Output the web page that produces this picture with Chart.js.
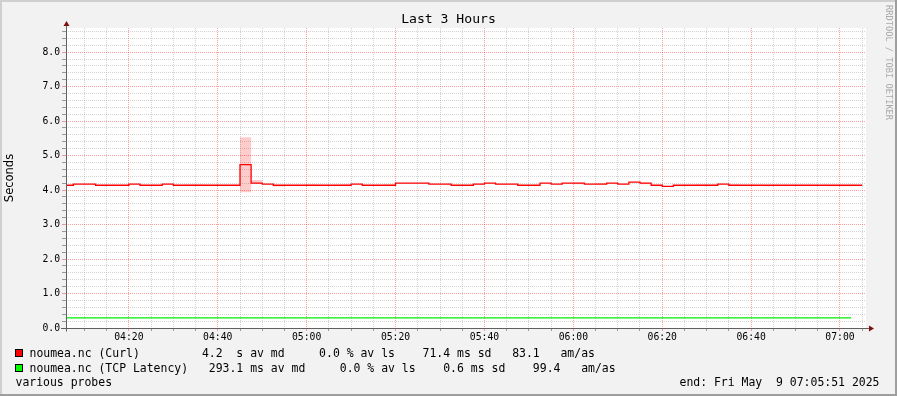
<!DOCTYPE html>
<html>
<head>
<meta charset="utf-8">
<script src="https://cdn.jsdelivr.net/npm/chart.js@4.4.1/dist/chart.umd.min.js"></script>
<style>
  html, body { margin: 0; padding: 0; background: #f2f2f2; }
  #wrap { position: relative; width: 897px; height: 396px; overflow: hidden; }
  #wrap canvas { position: absolute; left: 0; top: 0; }
  .txt { position: absolute; font-family: "DejaVu Sans Mono", monospace; color: #000; white-space: pre; }
  .leg { font-size: 11.46px; line-height: 14px; }
  .box { position: absolute; width: 6px; height: 6px; border: 1px solid #000; }
</style>
</head>
<body>
<div id="wrap">
  <canvas id="chart" width="897" height="396"></canvas>
  <div class="txt" style="left:0;width:897px;top:11px;text-align:center;font-size:13.1px;line-height:16px;">Last 3 Hours</div>
  <div class="txt" style="left:884px;top:5px;font-size:8.7px;line-height:10px;writing-mode:vertical-rl;color:#aaa;">RRDTOOL / TOBI OETIKER</div>
  <span class="box" style="left:15px;top:349px;background:#ff0000;"></span>
  <span class="box" style="left:15px;top:364px;background:#00ff00;"></span>
  <div class="txt leg" id="row1" style="left:29.5px;top:346.3px;"></div>
  <div class="txt leg" id="row2" style="left:29.5px;top:361.3px;"></div>
  <div class="txt leg" style="left:15.5px;top:374.7px;">various probes</div>
  <div class="txt leg" style="left:679.5px;top:374.7px;">end: Fri May  9 07:05:51 2025</div>
</div>
<script>
// time axis in minutes since midnight, 3 hours ending 07:05:51
const viewStart = 245.85;
const viewEnd = 425.85;
const firstStep = 245;   // 04:05, rrd step 2.5 min
const stepLen = 2.5;
const gridMinutes = 5;

const timeLabels = ["04:20", "04:40", "05:00", "05:20", "05:40", "06:00", "06:20", "06:40", "07:00"];
const labelMinutes = [260, 280, 300, 320, 340, 360, 380, 400, 420];

// noumea.nc (Curl) median, seconds, one value per 2.5 min step
const curlMedian = [
  4.14, 4.17, 4.17, 4.14, 4.14, 4.14, 4.17, 4.14, 4.14, 4.17,
  4.14, 4.14, 4.14, 4.14, 4.14, 4.14, 4.74, 4.20, 4.17, 4.14,
  4.14, 4.14, 4.14, 4.14, 4.14, 4.14, 4.17, 4.14, 4.14, 4.14,
  4.20, 4.20, 4.20, 4.17, 4.17, 4.14, 4.14, 4.17, 4.20, 4.17,
  4.17, 4.14, 4.14, 4.20, 4.17, 4.20, 4.20, 4.17, 4.17, 4.20,
  4.17, 4.23, 4.20, 4.14, 4.11, 4.14, 4.14, 4.14, 4.14, 4.17,
  4.14, 4.14, 4.14, 4.14, 4.14, 4.14, 4.14, 4.14, 4.14, 4.14,
  4.14, 4.14
];
// smoke (spread of the pings) low / high
const curlSmokeLo = [
  4.14, 4.17, 4.17, 4.14, 4.14, 4.14, 4.17, 4.14, 4.14, 4.17,
  4.14, 4.13, 4.14, 4.14, 4.14, 4.14, 3.94, 4.19, 4.17, 4.10,
  4.14, 4.14, 4.14, 4.14, 4.14, 4.14, 4.17, 4.14, 4.14, 4.14,
  4.20, 4.20, 4.20, 4.17, 4.17, 4.14, 4.14, 4.17, 4.20, 4.15,
  4.17, 4.14, 4.14, 4.20, 4.17, 4.20, 4.17, 4.17, 4.17, 4.20,
  4.17, 4.23, 4.17, 4.14, 4.11, 4.14, 4.14, 4.14, 4.14, 4.17,
  4.14, 4.14, 4.14, 4.11, 4.14, 4.14, 4.14, 4.14, 4.14, 4.11,
  4.11, 4.14
];
const curlSmokeHi = [
  4.14, 4.17, 4.17, 4.14, 4.14, 4.14, 4.17, 4.14, 4.14, 4.17,
  4.14, 4.16, 4.16, 4.14, 4.14, 4.14, 5.53, 4.29, 4.17, 4.14,
  4.14, 4.14, 4.16, 4.14, 4.14, 4.16, 4.17, 4.14, 4.14, 4.16,
  4.20, 4.20, 4.20, 4.17, 4.17, 4.14, 4.14, 4.17, 4.20, 4.17,
  4.17, 4.14, 4.14, 4.20, 4.17, 4.20, 4.21, 4.17, 4.20, 4.20,
  4.17, 4.23, 4.21, 4.14, 4.11, 4.14, 4.14, 4.16, 4.16, 4.17,
  4.16, 4.14, 4.14, 4.14, 4.14, 4.14, 4.14, 4.14, 4.14, 4.15,
  4.15, 4.14
];
// noumea.nc (TCP Latency), seconds
const tcpLatency = [
  0.293, 0.293, 0.293, 0.293, 0.293, 0.293, 0.293, 0.293, 0.293, 0.293,
  0.293, 0.293, 0.293, 0.293, 0.293, 0.293, 0.293, 0.293, 0.293, 0.293,
  0.293, 0.293, 0.293, 0.293, 0.293, 0.293, 0.293, 0.293, 0.293, 0.293,
  0.293, 0.293, 0.293, 0.293, 0.293, 0.293, 0.293, 0.293, 0.293, 0.293,
  0.293, 0.293, 0.293, 0.293, 0.293, 0.293, 0.293, 0.293, 0.293, 0.293,
  0.293, 0.293, 0.293, 0.293, 0.293, 0.293, 0.293, 0.293, 0.293, 0.293,
  0.293, 0.293, 0.293, 0.293, 0.293, 0.293, 0.293, 0.293, 0.293, 0.293,
  0.293
];

const legendRows = [
  "noumea.nc (Curl)         4.2  s av md     0.0 % av ls    71.4 ms sd   83.1   am/as",
  "noumea.nc (TCP Latency)   293.1 ms av md     0.0 % av ls    0.6 ms sd    99.4   am/as"
];
document.getElementById("row1").textContent = legendRows[0];
document.getElementById("row2").textContent = legendRows[1];

// each value holds from its step start until the next step
function stepPoints(values) {
  const pts = values.map((v, i) => ({x: firstStep + i * stepLen, y: v}));
  pts.push({x: firstStep + values.length * stepLen, y: values[values.length - 1]});
  return pts;
}

function isMajorY(v) { return Math.abs(v - Math.round(v)) < 1e-6; }

const minorCol = "rgba(140,140,140,0.38)";
const majorCol = "rgba(255,0,0,0.38)";

const framePlugin = {
  id: "frame",
  beforeDraw(chart) {
    const {ctx, width, height, chartArea: a} = chart;
    ctx.save();
    ctx.fillStyle = "#f2f2f2";
    ctx.fillRect(0, 0, width, height);
    ctx.fillStyle = "#cfcfcf";
    ctx.fillRect(0, 0, width, 2);
    ctx.fillRect(0, 0, 2, height);
    ctx.fillStyle = "#9e9e9e";
    ctx.fillRect(0, height - 2, width, 2);
    ctx.fillRect(width - 2, 0, 2, height);
    ctx.fillStyle = "#ffffff";
    ctx.fillRect(a.left, a.top, a.right - a.left, a.bottom - a.top);
    ctx.restore();
  },
  afterDatasetsDraw(chart) {
    const {ctx, chartArea: a} = chart;
    const x0 = a.left + 0.5, y0 = a.bottom + 0.5;
    ctx.save();
    ctx.strokeStyle = "#606060";
    ctx.lineWidth = 1;
    ctx.beginPath();
    ctx.moveTo(x0, y0 + 3);
    ctx.lineTo(x0, a.top - 2);
    ctx.moveTo(a.left - 5, y0);
    ctx.lineTo(a.right + 3, y0);
    ctx.stroke();
    // arrows
    ctx.fillStyle = "#7f1010";
    ctx.beginPath();
    ctx.moveTo(x0, a.top - 7);
    ctx.lineTo(x0 - 3, a.top - 2);
    ctx.lineTo(x0 + 3, a.top - 2);
    ctx.closePath();
    ctx.fill();
    ctx.beginPath();
    ctx.moveTo(a.right + 8, y0);
    ctx.lineTo(a.right + 3, y0 - 3);
    ctx.lineTo(a.right + 3, y0 + 3);
    ctx.closePath();
    ctx.fill();
    ctx.restore();
  }
};

Chart.defaults.font.family = "'DejaVu Sans Mono', monospace";
Chart.defaults.color = "#000";

new Chart(document.getElementById("chart"), {
  type: "line",
  data: {
    datasets: [
      {
        label: "smoke lo",
        data: stepPoints(curlSmokeLo),
        stepped: true,
        borderWidth: 0,
        pointRadius: 0,
        fill: false,
        clip: 0,
        order: 5
      },
      {
        label: "smoke hi",
        data: stepPoints(curlSmokeHi),
        stepped: true,
        borderWidth: 0,
        pointRadius: 0,
        backgroundColor: "rgba(255,0,0,0.2)",
        fill: "-1",
        clip: 0,
        order: 4
      },
      {
        label: "noumea.nc (Curl)",
        data: stepPoints(curlMedian),
        stepped: true,
        borderColor: "#ff0000",
        borderWidth: 1.3,
        pointRadius: 0,
        fill: false,
        clip: 0,
        order: 0
      },
      {
        label: "noumea.nc (TCP Latency)",
        data: stepPoints(tcpLatency),
        stepped: true,
        borderColor: "#00ee00",
        borderWidth: 1.3,
        pointRadius: 0,
        fill: false,
        clip: 0,
        order: 1
      }
    ]
  },
  options: {
    responsive: false,
    animation: false,
    events: [],
    layout: { padding: { top: 28, right: 31, bottom: 0, left: 0 } },
    plugins: { legend: { display: false }, tooltip: { enabled: false } },
    scales: {
      x: {
        type: "linear",
        min: viewStart,
        max: viewEnd,
        afterFit(s) { s.height = 68; },
        afterBuildTicks(s) {
          const t = [];
          for (let m = Math.ceil(viewStart / gridMinutes) * gridMinutes; m < viewEnd; m += gridMinutes) t.push({value: m});
          s.ticks = t;
        },
        ticks: {
          autoSkip: false,
          maxRotation: 0,
          padding: 0.5,
          font: { size: 9.75 },
          callback: v => {
            const i = labelMinutes.indexOf(v);
            return i >= 0 ? timeLabels[i] : "";
          }
        },
        grid: {
          tickLength: 3,
          color: c => labelMinutes.includes(c.tick.value) ? majorCol : minorCol,
          tickColor: c => labelMinutes.includes(c.tick.value) ? majorCol : "#999"
        },
        border: { display: false, dash: [1, 1] }
      },
      y: {
        min: 0,
        max: 8.7,
        afterFit(s) { s.width = 66; },
        afterBuildTicks(s) { s.ticks = s.ticks.filter(t => t.value >= 0 && t.value < s.max); },
        ticks: {
          stepSize: 0.2,
          includeBounds: false,
          autoSkip: false,
          padding: 2,
          font: { size: 9.75 },
          callback: v => isMajorY(v) ? v.toFixed(1) : ""
        },
        grid: {
          tickLength: 4,
          color: c => isMajorY(c.tick.value) ? majorCol : minorCol,
          tickColor: c => isMajorY(c.tick.value) ? majorCol : "#999"
        },
        border: { display: false, dash: [1, 1] },
        title: {
          display: true,
          text: "Seconds",
          font: { family: "'DejaVu Sans', sans-serif", size: 11.5 },
          padding: { top: 3, bottom: 0 }
        }
      }
    }
  },
  plugins: [framePlugin]
});
</script>
</body>
</html>
